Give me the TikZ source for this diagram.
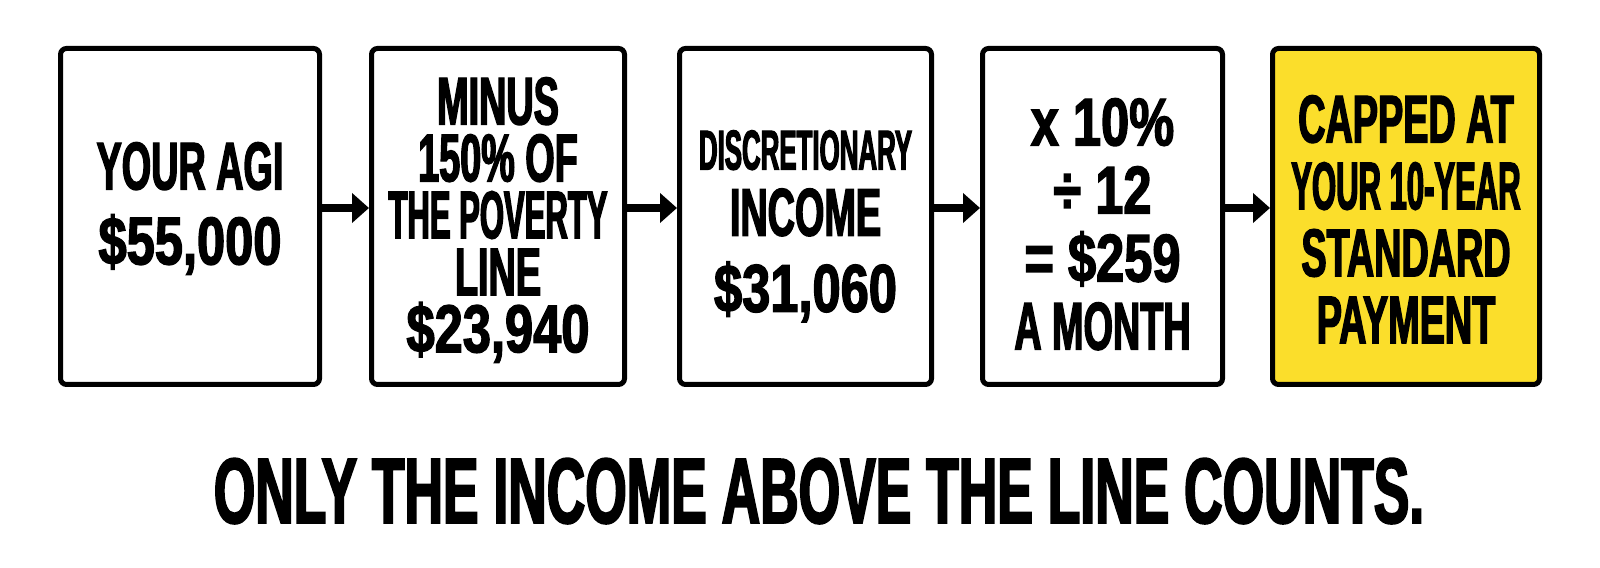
\documentclass[tikz,border=0pt]{standalone}
\usepackage{fontspec}
\usetikzlibrary{arrows.meta}

\newfontfamily\stagefont{Liberation Sans}[FakeStretch=0.56,FakeBold=2]
\newfontfamily\tightfont{Liberation Sans}[FakeStretch=0.46,FakeBold=2]
\newfontfamily\widefont{Liberation Sans}[FakeStretch=0.75,FakeBold=2]
\newfontfamily\mottofont{Liberation Sans}[FakeStretch=0.575,FakeBold=2]
\newcommand\stagesize[1]{\stagefont\bfseries\fontsize{48}{#1}\selectfont}
\definecolor{capyellow}{RGB}{251,222,43}

\begin{document}
\begin{tikzpicture}[
        stage/.style={draw=black, line width=0.125cm, rounded corners=0.15cm, fill=white,
                      minimum height=8.4cm, inner sep=0pt},
        stagetext/.style={anchor=north, inner sep=0pt, align=center},
        flow/.style={-{Triangle[length=0.425cm,width=0.725cm]}, line width=0.2cm}
    ]
        % 40 px = 1 cm
        \useasboundingbox (0,0) rectangle (40,14.2);

        % the five boxes
        \node[stage, minimum width=6.475cm] (agi) at (4.75,8.7875) {};
        \node[stage, minimum width=6.325cm] (poverty) at (12.45,8.7875) {};
        \node[stage, minimum width=6.3cm] (discr) at (20.1375,8.7875) {};
        \node[stage, minimum width=6cm] (month) at (27.5625,8.7875) {};
        \node[stage, minimum width=6.675cm, fill=capyellow] (cap) at (35.15,8.7875) {};

        % their texts
        \node[stagetext, font=\stagesize{53.3}] (agitext) at ([yshift=-2.4cm]agi.north)
            {YOUR AGI\\{\widefont\$55,000}};
        \node[stagetext, font=\stagesize{40.5}] (povertytext) at ([yshift=-0.775cm]poverty.north)
            {MINUS\\150\% OF\\{\tightfont THE POVERTY}\\LINE\\{\widefont\$23,940}};
        \node[stagetext, font=\stagesize{47}] (discrtext) at ([yshift=-2.1cm]discr.north)
            {{\tightfont\fontsize{40}{47}\selectfont DISCRETIONARY}\\INCOME\\[0.25cm]{\widefont\$31,060}};
        \node[stagetext, font=\stagesize{48.4}] (monthtext) at ([yshift=-1.3cm]month.north)
            {{\widefont x 10\%}\\{\widefont ÷ 12}\\{\widefont = \$259}\\A MONTH};
        \node[stagetext, font=\stagesize{47.6}] (captext) at ([yshift=-1.225cm]cap.north)
            {CAPPED AT\\{\tightfont YOUR 10-YEAR}\\STANDARD\\PAYMENT};

        \draw[flow] ([yshift=0.2125cm]agi.east) -- ([yshift=0.2125cm]poverty.west);
        \draw[flow] ([yshift=0.2125cm]poverty.east) -- ([yshift=0.2125cm]discr.west);
        \draw[flow] ([yshift=0.2125cm]discr.east) -- ([yshift=0.2125cm]month.west);
        \draw[flow] ([yshift=0.2125cm]month.east) -- ([yshift=0.2125cm]cap.west);

        \node[anchor=base, font={\mottofont\bfseries\fontsize{66}{72}\selectfont}] (motto) at (20.475,1.125)
            {ONLY THE INCOME ABOVE THE LINE COUNTS.};
\end{tikzpicture}
\end{document}
